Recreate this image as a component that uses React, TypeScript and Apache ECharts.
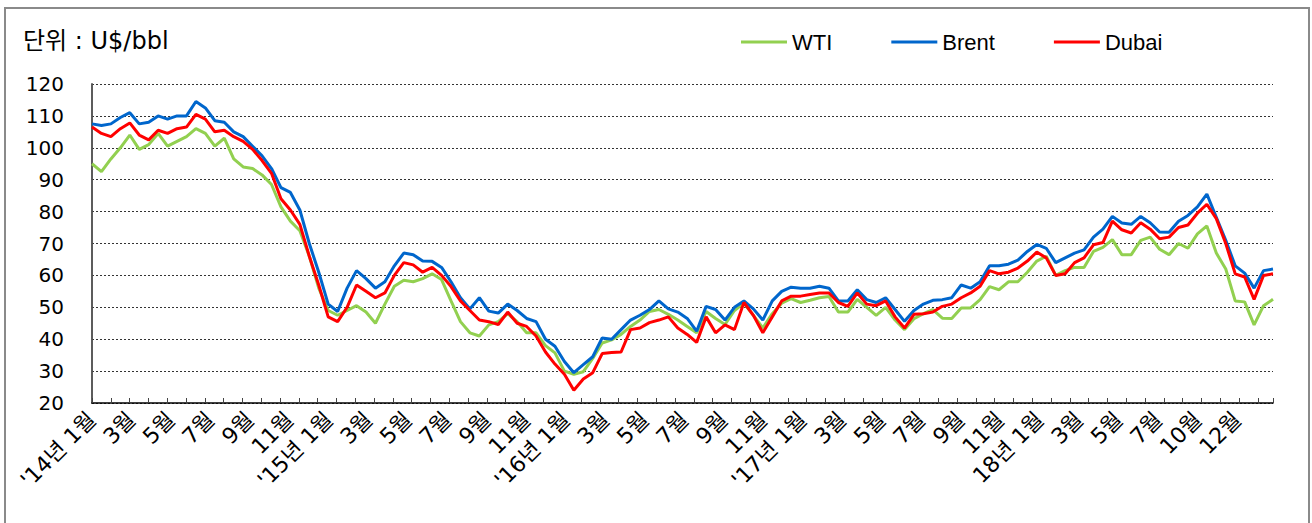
import React, { useEffect, useRef } from "react";
import * as echarts from "echarts";

// Axis tick labels (one every 42 trading days)
const X_LABELS = [
  "'14년 1월", "3월", "5월", "7월", "9월", "11월",
  "'15년 1월", "3월", "5월", "7월", "9월", "11월",
  "'16년 1월", "3월", "5월", "7월", "9월", "11월",
  "'17년 1월", "3월", "5월", "7월", "9월", "11월",
  "18년 1월", "3월", "5월", "7월", "10월", "12월",
];
const TOTAL_DAYS = 1256;
const LABEL_EVERY_DAYS = 42;
const TICK_EVERY_DAYS = 20;

const Y_MIN = 20;
const Y_MAX = 120;
const Y_STEP = 10;

// Series values, sampled roughly every 10 trading days
const WTI = [
  95, 92.5, 96.5, 100, 104, 99.5, 101, 104.5, 100.5, 102,
  103.5, 106, 104.5, 100.5, 103, 96.5, 94, 93.5, 91.5, 88.5,
  81.5, 77, 74, 66, 56, 49, 47.5, 49, 50.5, 48.5,
  45, 51, 56.6, 58.5, 58, 59, 60.5, 58.7, 52, 45.5,
  42, 41, 44.5, 45.5, 48, 45.5, 42, 42, 38, 35.7,
  30, 29, 29.8, 34, 38.8, 39.8, 41.5, 44, 46, 48.7,
  49.3, 47.8, 46, 44, 42, 48.7, 46.5, 44.6, 49, 51.3,
  47.5, 43.5, 48, 51.3, 52.7, 51.5, 52.2, 53, 53.4, 48.5,
  48.5, 52.5, 50, 47.5, 50, 46, 43, 46.4, 48, 49.3,
  46.6, 46.5, 49.8, 49.8, 52.4, 56.5, 55.5, 58, 58, 61,
  64.5, 66, 60, 61.5, 62.5, 62.5, 67.5, 68.8, 71.2, 66.5,
  66.5, 71, 72, 68.2, 66.5, 70, 68.5, 73, 75.5, 67,
  62, 52, 51.7, 44.5, 50.5, 52.5,
];
const BRENT = [
  107.5, 107, 107.5, 109.5, 111, 107.5, 108, 110, 109, 110,
  110, 114.5, 112.5, 108.5, 108, 105, 103.5, 100.5, 97.5, 93.5,
  87.5, 86, 80.5, 70, 61, 51, 48.7, 56, 61.5, 59,
  56, 58, 63, 67, 66.5, 64.5, 64.4, 62.5, 58, 53,
  49.5, 53, 48.8, 48.2, 51, 49, 46.5, 45.5, 40, 37.8,
  33, 29.5, 32, 34.5, 40.4, 40, 43, 46, 47.5, 49.3,
  52, 49.5, 48.5, 46.5, 42.5, 50.3, 49.3, 46, 50, 52,
  49.5, 46, 52, 55, 56.3, 56, 56, 56.6, 56, 52,
  52, 55.5, 52.4, 51.5, 53, 49.3, 45.6, 49, 51, 52.2,
  52.4, 53, 57, 56, 58, 63, 63, 63.5, 64.8, 67.5,
  69.7, 68.5, 64, 65.5, 67, 68, 72, 74.5, 78.5, 76.4,
  76, 78.5, 76.5, 73.6, 73.5, 77, 78.8, 81.5, 85.5, 78.2,
  71, 63, 60.7, 56, 61.5, 62,
];
const DUBAI = [
  106.5, 104.5, 103.5, 106, 107.8, 104, 102.5, 105.5, 104.5, 106,
  106.5, 110.5, 109, 105, 105.5, 103.5, 102, 99.5, 96, 92,
  84, 80.5, 76, 66, 57, 47, 45.5, 50, 57, 55,
  53, 54.5, 60, 64, 63.3, 61, 62.5, 60, 56.5, 52,
  49, 46, 45.5, 44.6, 48.5, 45, 44, 41, 36, 32.2,
  29, 24, 27.5, 29.5, 35.5, 35.8, 36, 43, 43.5, 45.2,
  46, 47, 43.5, 41.5, 39, 47, 42, 44.5, 43, 51.5,
  47.5, 42, 47, 52, 53.5, 53.5, 54, 54.5, 54.5, 51.5,
  50.3, 54.5, 51, 50.5, 52, 47, 43.5, 47.8, 48, 48.5,
  50.3, 51, 53, 54.5, 56.6, 61.5, 60.5, 61, 62.3, 64.5,
  67.3, 65.5, 60, 60.5, 64, 65.5, 69.6, 70.3, 77, 74.3,
  73.3, 76.5, 74.5, 71.5, 72, 75, 75.8, 79.5, 82.3, 77.8,
  70, 60.5, 59.5, 52.5, 60, 60.5,
];

const SERIES_NAMES = ["WTI", "Brent", "Dubai"];
const SERIES_COLORS = ["#92D050", "#0066CC", "#FF0000"];

const FONT = '"Liberation Sans", Arial, "Noto Sans CJK KR", sans-serif';
const WIDE_FONT = '"DejaVu Sans", "Noto Sans CJK KR", sans-serif';

export default function App() {
  const ref = useRef<HTMLDivElement>(null);

  useEffect(() => {
    if (!ref.current) return;
    const chart = echarts.init(ref.current, undefined, { renderer: "svg" });
    const categories = BRENT.map((_, i) => String(i));
    const values = [WTI, BRENT, DUBAI];

    const option: any = {
      animation: false,
      backgroundColor: "#ffffff",
      textStyle: { fontFamily: FONT },
      title: {
        text: "단위 : U$/bbl",
        left: 18,
        top: 24,
        textStyle: { fontFamily: WIDE_FONT, fontSize: 24, fontWeight: "normal", color: "#000" },
      },
      legend: {
        data: SERIES_NAMES,
        left: 736,
        top: 26,
        icon: "rect",
        itemWidth: 46,
        itemHeight: 3,
        itemGap: 59,
        textStyle: { fontFamily: FONT, fontSize: 22, color: "#000" },
      },
      graphic: [
        {
          type: "rect",
          shape: { x: 5, y: 8, width: 1304, height: 540 },
          style: { fill: "none", stroke: "#8a8a8a", lineWidth: 2 },
          silent: true,
        },
      ],
      grid: { left: 92, right: 39, top: 84, bottom: 120, containLabel: false },
      xAxis: [
        {
          type: "category",
          data: categories,
          boundaryGap: false,
          position: "bottom",
          axisLine: { show: true, lineStyle: { color: "#000", width: 1.5 } },
          axisTick: { show: false },
          axisLabel: { show: false },
          splitLine: { show: false },
        },
        {
          type: "value",
          min: 0,
          max: TOTAL_DAYS,
          interval: TICK_EVERY_DAYS,
          position: "bottom",
          axisLine: { show: false },
          axisTick: { show: true, inside: true, length: 5, lineStyle: { color: "#444" } },
          axisLabel: { show: false },
          splitLine: { show: false },
        },
        {
          type: "value",
          min: 0,
          max: TOTAL_DAYS,
          interval: LABEL_EVERY_DAYS,
          position: "bottom",
          axisLine: { show: false },
          axisTick: { show: false },
          splitLine: { show: false },
          axisLabel: {
            show: true,
            rotate: 45,
            margin: 13,
            fontFamily: WIDE_FONT,
            fontSize: 22,
            color: "#000",
            showMaxLabel: false,
            formatter: (v: number) => {
              if (v % LABEL_EVERY_DAYS !== 0) return "";
              return X_LABELS[v / LABEL_EVERY_DAYS] ?? "";
            },
          },
        },
      ],
      yAxis: [
        {
          type: "value",
          min: Y_MIN,
          max: Y_MAX,
          interval: Y_STEP,
          position: "left",
          axisLine: { show: true, lineStyle: { color: "#000", width: 1.5 } },
          axisTick: { show: false },
          axisLabel: { margin: 28, fontFamily: WIDE_FONT, fontSize: 20, color: "#000" },
          splitLine: { show: true, lineStyle: { color: "#333", width: 1, type: [2, 2] } },
        },
        {
          type: "value",
          min: Y_MIN,
          max: Y_MAX,
          interval: Y_STEP,
          position: "right",
          axisLine: { show: true, lineStyle: { color: "#666", width: 1.5 } },
          axisTick: { show: false },
          axisLabel: { show: false },
          splitLine: { show: false },
        },
      ],
      series: SERIES_NAMES.map((name, k) => ({
        name,
        type: "line",
        xAxisIndex: 0,
        yAxisIndex: 0,
        data: values[k],
        showSymbol: false,
        symbol: "none",
        color: SERIES_COLORS[k],
        lineStyle: { color: SERIES_COLORS[k], width: 3 },
        z: 3 + k,
      })),
    };

    chart.setOption(option);
    return () => chart.dispose();
  }, []);

  return (
    <div
      ref={ref}
      style={{ position: "absolute", left: 0, top: 0, width: 1312, height: 523 }}
    />
  );
}
